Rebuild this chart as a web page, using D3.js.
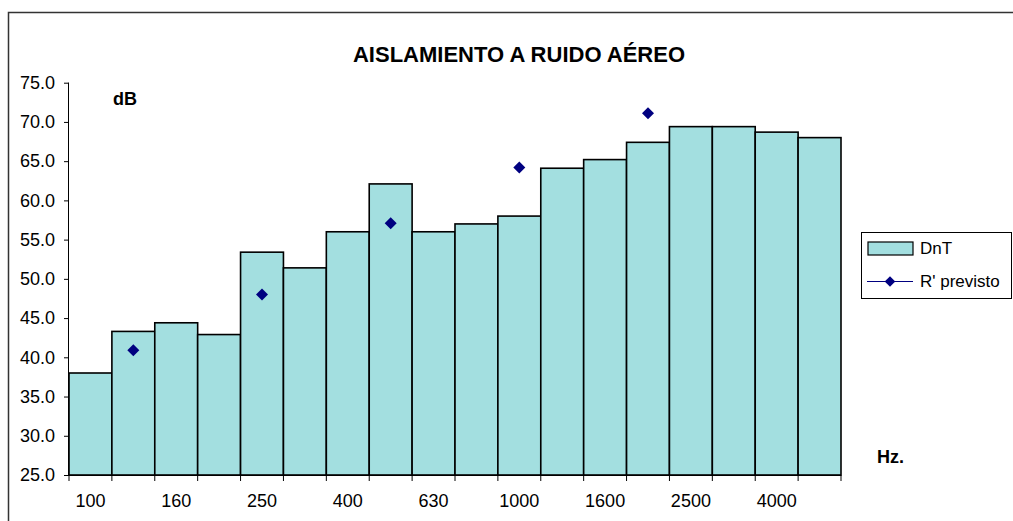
<!DOCTYPE html>
<html>
<head>
<meta charset="utf-8">
<script src="https://cdn.jsdelivr.net/npm/d3@7"></script>
<style>
  html, body { margin: 0; padding: 0; background: #fff; }
  svg { display: block; }
  text { font-family: "Liberation Sans", Arial, sans-serif; fill: #000; }
</style>
</head>
<body>
<svg id="chart" width="1013" height="521"></svg>
<script>
// Third-octave band centre frequencies (Hz)
const frequencies = [100, 125, 160, 200, 250, 315, 400, 500, 630, 800, 1000, 1250, 1600, 2000, 2500, 3150, 4000, 5000];
// Measured standardized level difference DnT (dB)
const dntValues = [38.0, 43.3, 44.4, 42.9, 53.4, 51.4, 56.0, 62.1, 56.0, 57.0, 58.0, 64.1, 65.2, 67.4, 69.4, 69.4, 68.7, 68.0];
// Predicted apparent sound reduction index R' (dB), octave bands only
const rPrevisto = [null, 40.9, null, null, 48.0, null, null, 57.1, null, null, 64.2, null, null, 71.1, null, null, null, null];
// Frequencies that carry an axis label
const xTickLabels = [100, 160, 250, 400, 630, 1000, 1600, 2500, 4000];
const yTicks = [25, 30, 35, 40, 45, 50, 55, 60, 65, 70, 75];

const svg = d3.select("#chart");
const plot = { left: 69, right: 841, top: 82.7, bottom: 475 };

const x = d3.scaleBand().domain(frequencies).range([plot.left, plot.right]).padding(0);
const y = d3.scaleLinear().domain([25, 75]).range([plot.bottom, plot.top]);

// Outer chart frame
svg.append("rect")
  .attr("x", 8.5).attr("y", 12.5)
  .attr("width", 1100).attr("height", 600)
  .attr("fill", "none").attr("stroke", "#333").attr("stroke-width", 1.5);

// Title
svg.append("text")
  .attr("x", 519).attr("y", 62)
  .attr("text-anchor", "middle")
  .style("font-size", "22px").style("font-weight", "bold")
  .text("AISLAMIENTO A RUIDO AÉREO");

// DnT bars
svg.append("g").selectAll("rect")
  .data(frequencies.map((f, i) => ({ f, v: dntValues[i] })))
  .join("rect")
  .attr("x", d => x(d.f))
  .attr("y", d => y(d.v))
  .attr("width", x.bandwidth())
  .attr("height", d => y(25) - y(d.v))
  .attr("fill", "#a3dfe0")
  .attr("stroke", "#000")
  .attr("stroke-width", 1.6);

// Y axis
const yAxis = d3.axisLeft(y).tickValues(yTicks).tickSize(5).tickPadding(9)
  .tickFormat(d3.format(".1f"));
const gy = svg.append("g").attr("transform", `translate(${plot.left},0)`).call(yAxis);
gy.select(".domain").attr("stroke", "#000").attr("d", `M-0.5,${plot.top}V${plot.bottom}`);
gy.selectAll(".tick line").attr("stroke", "#000");
gy.selectAll(".tick text").style("font-size", "18px").style("font-family", "Liberation Sans, Arial, sans-serif");

// X axis: labels centred on bands, ticks on band boundaries
const xAxis = d3.axisBottom(x).tickValues(xTickLabels).tickSize(0).tickPadding(19);
const gx = svg.append("g").attr("transform", `translate(0,${plot.bottom})`).call(xAxis);
gx.select(".domain").attr("stroke", "#000").attr("d", `M${plot.left},0.5H${plot.right}`);
gx.selectAll(".tick text").style("font-size", "18px").style("font-family", "Liberation Sans, Arial, sans-serif");

const boundaries = frequencies.map(f => x(f)).concat([x(frequencies[frequencies.length - 1]) + x.bandwidth()]);
svg.append("g").selectAll("line")
  .data(boundaries)
  .join("line")
  .attr("x1", d => d).attr("x2", d => d)
  .attr("y1", plot.bottom).attr("y2", plot.bottom + 6)
  .attr("stroke", "#000");

// R' previsto markers (diamonds = squares rotated 45°)
const marker = d3.symbol().type(d3.symbolSquare).size(72);
svg.append("g").selectAll("path")
  .data(frequencies.map((f, i) => ({ f, v: rPrevisto[i] })).filter(d => d.v != null))
  .join("path")
  .attr("d", marker())
  .attr("transform", d => `translate(${x(d.f) + x.bandwidth() / 2},${y(d.v)}) rotate(45)`)
  .attr("fill", "#000080");

// Unit labels
svg.append("text").attr("x", 113).attr("y", 105)
  .style("font-size", "18px").style("font-weight", "bold").text("dB");
svg.append("text").attr("x", 877).attr("y", 463)
  .style("font-size", "18px").style("font-weight", "bold").text("Hz.");

// Legend
const legend = svg.append("g");
legend.append("rect")
  .attr("x", 861.5).attr("y", 232.5).attr("width", 150).attr("height", 66)
  .attr("fill", "#fff").attr("stroke", "#000");
legend.append("rect")
  .attr("x", 868).attr("y", 242).attr("width", 45).attr("height", 13)
  .attr("fill", "#a3dfe0").attr("stroke", "#000").attr("stroke-width", 1.2);
legend.append("text").attr("x", 920).attr("y", 254)
  .style("font-size", "17px").text("DnT");
legend.append("line")
  .attr("x1", 867).attr("x2", 913).attr("y1", 281.5).attr("y2", 281.5)
  .attr("stroke", "#000080").attr("stroke-width", 1.2);
legend.append("path")
  .attr("d", d3.symbol().type(d3.symbolSquare).size(56)())
  .attr("transform", "translate(890,281.5) rotate(45)")
  .attr("fill", "#000080");
legend.append("text").attr("x", 920).attr("y", 287)
  .style("font-size", "17px").text("R' previsto");
</script>
</body>
</html>
